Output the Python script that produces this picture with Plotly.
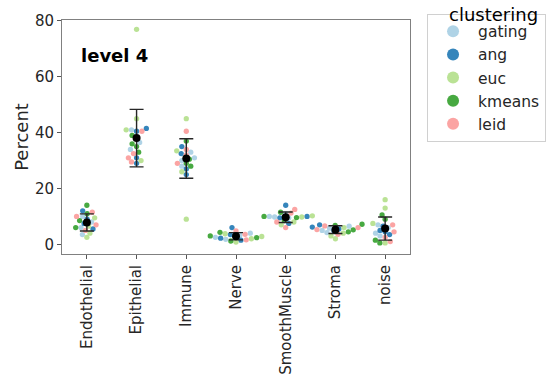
import numpy as np
import plotly.graph_objects as go

categories = ["Endothelial", "Epithelial", "Immune", "Nerve", "SmoothMuscle", "Stroma", "noise"]
methods = ["gating", "ang", "euc", "kmeans", "leid"]
colors = ["#a6cee3", "#1f78b4", "#b2df8a", "#33a02c", "#fb9a99"]

gating = {
    "Endothelial": [3.5, 6, 8, 10],
    "Epithelial": [41, 38, 36.5, 34],
    "Immune": [33, 31, 28, 30],
    "Nerve": [2.5, 3.3, 1.8, 4.0],
    "SmoothMuscle": [11, 10, 9.8, 9.5],
    "Stroma": [6.5, 5.8, 5, 4.2],
    "noise": [7, 6, 4, 3],
}
ang = {
    "Endothelial": [12, 9, 7.5, 5.5],
    "Epithelial": [41.5, 40.5, 31, 29],
    "Immune": [35, 32.5, 27, 25],
    "Nerve": [6, 3.5, 2.2, 1.5],
    "SmoothMuscle": [14, 10, 9.5, 7.5],
    "Stroma": [7, 6.2, 5.5, 4.8],
    "noise": [6.5, 5, 4.5, 3.5],
}
euc = {
    "Endothelial": [2.5, 4, 6.5, 9.5],
    "Epithelial": [77, 45, 41, 30],
    "Immune": [45, 33.5, 26, 9],
    "Nerve": [0.8, 2.0, 2.8, 3.8],
    "SmoothMuscle": [10.2, 9.8, 8, 7],
    "Stroma": [6, 4, 3, 2],
    "noise": [16, 13, 7.5, 0.5],
}
kmeans = {
    "Endothelial": [14, 11, 8.5, 6],
    "Epithelial": [39, 36, 35, 33],
    "Immune": [37, 30.5, 29, 28],
    "Nerve": [4.3, 3.0, 2.4, 1.2],
    "SmoothMuscle": [11.5, 10, 9.6, 8.5],
    "Stroma": [7.2, 6.8, 5.2, 4.5],
    "noise": [10.5, 9, 1.5, 0.5],
}
leid = {
    "Endothelial": [11.5, 10, 7, 5],
    "Epithelial": [40.5, 32.5, 31, 29.5],
    "Immune": [40.5, 34, 32, 29],
    "Nerve": [4.8, 3.6, 2.6, 1.6],
    "SmoothMuscle": [12.5, 11.2, 8, 6],
    "Stroma": [6.6, 6, 5.3, 3.6],
    "noise": [7, 4.5, 2.5, 1],
}
data = [gating, ang, euc, kmeans, leid]

# geometry (pixels) used only for swarm layout computation
L, R, T, B = 62, 148, 16, 129
W, H = 558, 387
y_range = [-3.46, 80.35]
x_range = [-0.5, 6.5]
px_per_x = (W - L - R) / (x_range[1] - x_range[0])
px_per_y = (H - T - B) / (y_range[1] - y_range[0])
diam = 5.3


def swarm(values):
    order = np.argsort(values, kind="stable")
    placed = []
    offs = np.zeros(len(values))
    for i in order:
        yp = values[i] * px_per_y
        cands = [0.0]
        for (xq, yq) in placed:
            dy = yp - yq
            if abs(dy) < diam:
                dx = np.sqrt(diam ** 2 - dy ** 2) + 0.01
                cands += [xq + dx, xq - dx]
        cands = sorted(cands, key=lambda c: (abs(c), c))
        for c in cands:
            ok = True
            for (xq, yq) in placed:
                if (c - xq) ** 2 + (yp - yq) ** 2 < diam ** 2 - 1e-6:
                    ok = False
                    break
            if ok:
                offs[i] = c
                placed.append((c, yp))
                break
    return offs / px_per_x


xs = {m: [] for m in methods}
ys = {m: [] for m in methods}
means, sds = [], []
for ci, cat in enumerate(categories):
    vals, labs = [], []
    for mi, m in enumerate(methods):
        for v in data[mi][cat]:
            vals.append(v)
            labs.append(m)
    vals = np.array(vals, dtype=float)
    off = swarm(vals)
    for v, o, lab in zip(vals, off, labs):
        xs[lab].append(ci + o)
        ys[lab].append(v)
    means.append(vals.mean())
    sds.append(vals.std(ddof=1))

fig = go.Figure()
for m, c in zip(methods, colors):
    fig.add_trace(go.Scatter(
        x=xs[m], y=ys[m], mode="markers", name=m,
        marker=dict(color=c, size=diam, opacity=0.9, line=dict(width=0)),
    ))

fig.add_trace(go.Scatter(
    x=list(range(len(categories))), y=means, mode="markers", showlegend=False,
    marker=dict(color="black", size=8),
    error_y=dict(type="data", array=sds, color="#262626", thickness=1.4, width=7),
))

font = "DejaVu Sans"
fig.update_layout(
    width=W, height=H,
    margin=dict(l=L, r=R, t=T, b=B),
    plot_bgcolor="white", paper_bgcolor="white",
    font=dict(family=font, color="#262626"),
    showlegend=True,
    legend=dict(
        x=1.049, y=1.027, xanchor="left", yanchor="top",
        bordercolor="#d0d0d0", borderwidth=1,
        font=dict(size=15.5, family=font, color="#262626"),
        itemsizing="constant", tracegroupgap=0, itemwidth=40,
    ),
    xaxis=dict(
        range=x_range, tickmode="array", tickvals=list(range(len(categories))),
        ticktext=categories, tickangle=-90, ticks="outside", ticklen=4,
        tickcolor="#555", tickfont=dict(size=15, family=font, color="#262626"),
        showline=True, linecolor="#808080", linewidth=1, mirror=True,
        showgrid=False, zeroline=False,
    ),
    yaxis=dict(
        range=y_range, tickmode="array", tickvals=[0, 20, 40, 60, 80],
        ticks="outside", ticklen=4, tickcolor="#555",
        tickfont=dict(size=15, family=font, color="#262626"),
        title=dict(text="Percent", font=dict(size=18, family=font, color="#262626"), standoff=1),
        showline=True, linecolor="#808080", linewidth=1, mirror=True,
        showgrid=False, zeroline=False,
    ),
    annotations=[
        dict(text="<b>level 4</b>", x=0.05, y=0.85, xref="paper", yref="paper",
             xanchor="left", yanchor="middle", showarrow=False,
             font=dict(size=18, family=font, color="black")),
        dict(text="clustering", x=1.105, y=1.022, xref="paper", yref="paper",
             xanchor="left", yanchor="middle", showarrow=False,
             font=dict(size=18, family=font, color="black"), bgcolor="rgba(0,0,0,0)"),
    ],
)

fig.write_html("out.html")
